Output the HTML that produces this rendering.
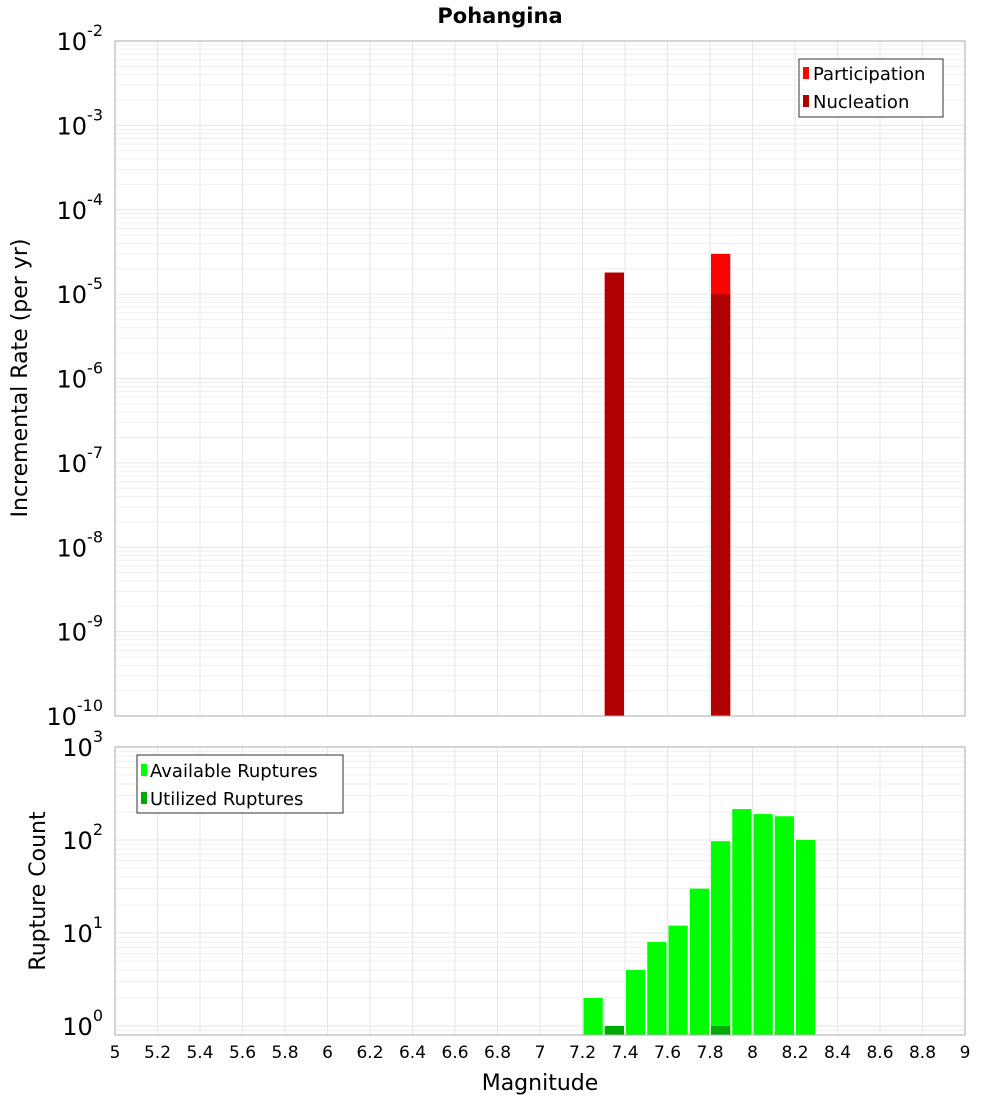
<!DOCTYPE html>
<html><head><meta charset="utf-8">
<style>
body{margin:0;background:#fff;font-family:"Liberation Sans","DejaVu Sans",sans-serif;}
svg text{font-family:"DejaVu Sans","Liberation Sans",sans-serif;}
</style></head>
<body>
<svg id="chart" width="1000" height="1100" xmlns="http://www.w3.org/2000/svg">
<text x="500" y="23" text-anchor="middle" font-size="21" font-weight="bold">Pohangina</text>
<g id="topPanel"></g><g id="botPanel"></g>
<text transform="translate(27,378) rotate(-90)" text-anchor="middle" font-size="22">Incremental Rate (per yr)</text>
<text transform="translate(45,891) rotate(-90)" text-anchor="middle" font-size="22">Rupture Count</text>
<text x="540" y="1090" text-anchor="middle" font-size="22">Magnitude</text>
<g>
<rect x="799" y="59" width="144" height="58" fill="#fff" stroke="#333"/>
<rect x="803" y="67" width="6" height="12" fill="#ff0000"/>
<text x="813" y="80" font-size="18">Participation</text>
<rect x="803" y="95" width="6" height="12" fill="#b00000"/>
<text x="813" y="108" font-size="18">Nucleation</text>
</g>
<g>
<rect x="137" y="755" width="206" height="58" fill="#fff" stroke="#333"/>
<rect x="141" y="764" width="6" height="12" fill="#00ff00"/>
<text x="150" y="777" font-size="18">Available Ruptures</text>
<rect x="141" y="792" width="6" height="12" fill="#00aa00"/>
<text x="150" y="805" font-size="18">Utilized Ruptures</text>
</g>
</svg>
<script>
const xTicks=[5,5.2,5.4,5.6,5.8,6,6.2,6.4,6.6,6.8,7,7.2,7.4,7.6,7.8,8,8.2,8.4,8.6,8.8,9];
const rateMags=[7.35,7.85];
const participation=[1.8e-5,3.0e-5];
const nucleation=[1.8e-5,1.0e-5];
const countMags=[7.25,7.35,7.45,7.55,7.65,7.75,7.85,7.95,8.05,8.15,8.25];
const available=[2,1,4,8,12,30,97,215,190,180,100];
const utilizedMags=[7.35,7.85];
const utilized=[1,1];
const topExps=[-10,-9,-8,-7,-6,-5,-4,-3,-2];
const botExps=[0,1,2,3];

const NS="http://www.w3.org/2000/svg";
const X0=115,X1=965;
const xs=m=>X0+(m-5)/(9-5)*(X1-X0);
const yTop=v=>41+(-2-Math.log10(v))*84.375;
const yBot=v=>1026-Math.log10(v)*93;
function mk(p,tag,attrs){const e=document.createElementNS(NS,tag);for(const k in attrs)e.setAttribute(k,attrs[k]);p.appendChild(e);return e;}
function panel(g,t,b,yf,minE,maxE){
  mk(g,'rect',{x:X0,y:t,width:X1-X0,height:b-t,fill:'#fff'});
  for(let e=minE-1;e<=maxE;e++)for(let k=1;k<10;k++){const v=k*Math.pow(10,e);const y=yf(v);if(y<t-0.5||y>b+0.5)continue;
    const l=mk(g,'line',{x1:X0,x2:X1,y1:y,y2:y,stroke:k==1?'#e6e6e6':'#efefef','stroke-width':1});
    
    }
  xTicks.forEach(tk=>{const x=xs(tk);const l=mk(g,'line',{x1:x,x2:x,y1:t,y2:b,stroke:'#e6e6e6','stroke-width':1});
    
    });
}
function ylabels(g,exps,yf,x){exps.forEach(e=>{const y=yf(Math.pow(10,e));const t=mk(g,'text',{x:x,y:y+9,'font-size':24,'text-anchor':'end'});
  
  
  t.textContent='10';const s=mk(t,'tspan',{dy:-14,'font-size':16});s.textContent=String(e);});}
const topG=document.getElementById('topPanel'),botG=document.getElementById('botPanel');
panel(topG,41,716,yTop,-10,-2);
panel(botG,747,1035,yBot,0,3);
const bw=(X1-X0)/40;
rateMags.forEach((m,i)=>{
  const y=yTop(participation[i]);
  const r=mk(topG,'rect',{x:xs(m)-bw/2+1,y:y,width:bw-2,height:716-y,fill:'#ff0000'});
  
  
  const y2=yTop(nucleation[i]);
  const r2=mk(topG,'rect',{x:xs(m)-bw/2+1,y:y2,width:bw-2,height:716-y2,fill:'#b00000'});
  
  
});
countMags.forEach((m,i)=>{
  const y=yBot(available[i]);
  const r=mk(botG,'rect',{x:xs(m)-bw/2+1,y:y,width:bw-2,height:1035-y,fill:'#00ff00'});
  
  
});
utilizedMags.forEach((m,i)=>{
  const y=yBot(utilized[i]);
  const r=mk(botG,'rect',{x:xs(m)-bw/2+1,y:y,width:bw-2,height:1035-y,fill:'#00aa00'});
  
  
});
mk(topG,'rect',{x:X0,y:41,width:X1-X0,height:675,fill:'none',stroke:'#aaa'});
mk(botG,'rect',{x:X0,y:747,width:X1-X0,height:288,fill:'none',stroke:'#aaa'});
ylabels(topG,topExps,yTop,103);
ylabels(botG,botExps,yBot,103);
xTicks.forEach(t=>{const tx=mk(botG,'text',{x:xs(t),y:1058,'font-size':17,'text-anchor':'middle'});
  
  
  tx.textContent=String(t);});
</script>
</body></html>
